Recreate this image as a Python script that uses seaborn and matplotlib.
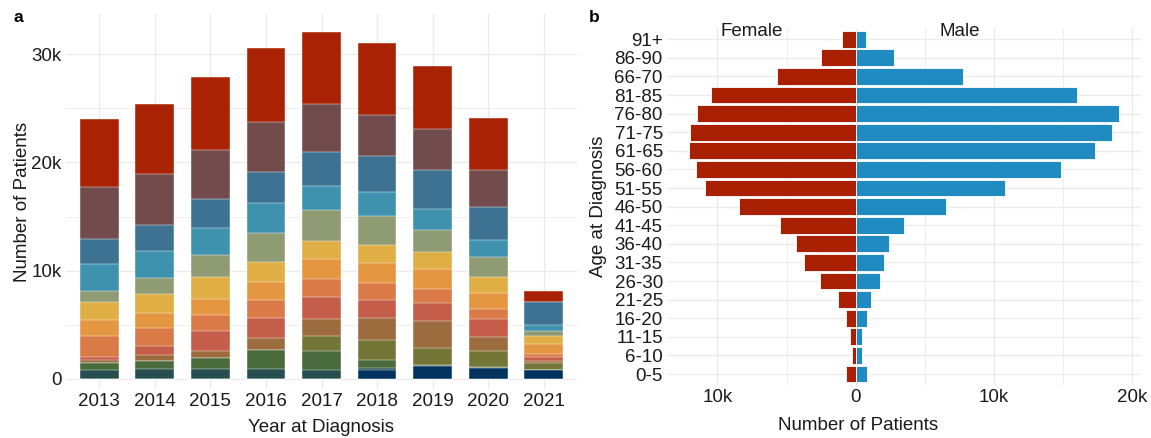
import matplotlib
matplotlib.use("Agg")
import matplotlib.pyplot as plt
import numpy as np
import pandas as pd
import seaborn as sns

# ---------------- data: panel a ----------------
years = ["2013", "2014", "2015", "2016", "2017", "2018", "2019", "2020", "2021"]
categories = ["Group 1", "Group 2", "Group 3", "Group 4", "Group 5", "Group 6", "Group 7",
              "Group 8", "Group 9", "Group 10", "Group 11", "Group 12", "Group 13", "Group 14"]
group_1 = [0, 0, 0, 0, 0, 830, 1170, 1050, 870]
group_2 = [830, 890, 950, 950, 830, 185, 0, 0, 0]
group_3 = [615, 770, 1015, 1755, 1785, 740, 125, 90, 0]
group_4 = [0, 0, 0, 0, 1385, 1845, 1600, 1446, 630]
group_5 = [310, 520, 645, 1075, 1510, 2060, 2430, 1260, 154]
group_6 = [280, 890, 1845, 1875, 2060, 1660, 1720, 1720, 369]
group_7 = [1940, 1660, 1480, 1660, 1630, 1540, 1230, 860, 246]
group_8 = [1480, 1355, 1445, 1660, 1875, 1875, 1845, 1480, 923]
group_9 = [1690, 1755, 2000, 1845, 1660, 1660, 1570, 1480, 769]
group_10 = [985, 1480, 2060, 2645, 2860, 2680, 2090, 1845, 462]
group_11 = [2460, 2460, 2460, 2740, 2250, 2185, 1940, 1570, 523]
group_12 = [2340, 2430, 2680, 2925, 3080, 3355, 3600, 3110, 2154]
group_13 = [4815, 4740, 4525, 4585, 4460, 3785, 3720, 3415, 0]
group_14 = [6300, 6430, 6770, 6865, 6650, 6615, 5880, 4800, 1046]
series_a = [group_1, group_2, group_3, group_4, group_5, group_6, group_7,
            group_8, group_9, group_10, group_11, group_12, group_13, group_14]
palette_a = ["#02335F", "#264E50", "#4A6B3C", "#747637", "#9C6C3F", "#C45E4A", "#D97A47",
             "#E59640", "#DFAE45", "#8F9C73", "#3F92AE", "#3E7292", "#724C4C", "#A82203"]

# ---------------- data: panel b ----------------
ages = ["91+", "86-90", "66-70", "81-85", "76-80", "71-75", "61-65", "56-60", "51-55",
        "46-50", "41-45", "36-40", "31-35", "26-30", "21-25", "16-20", "11-15", "6-10", "0-5"]
female = [960, 2480, 5680, 10490, 11460, 11960, 12080, 11575, 10900,
          8425, 5465, 4330, 3730, 2600, 1275, 700, 433, 290, 673]
male = [745, 2770, 7725, 16000, 19060, 18510, 17300, 14850, 10800,
        6500, 3515, 2430, 2045, 1730, 1105, 795, 480, 433, 795]
sexes = ["Female", "Male"]
sex_colors = {"Female": "#A82000", "Male": "#208BC0"}

# ---------------- style ----------------
sns.set_theme(style="white")
plt.rcParams["font.family"] = ["Liberation Sans", "DejaVu Sans"]
txt = "#1a1a1a"
grid_c = "#EBEBEB"
FS = 13.5

fig = plt.figure(figsize=(11.51, 4.38), dpi=100)
W, H = 1151, 438

def px_axes(l, t, r, b):
    return fig.add_axes([l / W, 1 - b / H, (r - l) / W, (b - t) / H])

# ---------------- panel a ----------------
ax = px_axes(66, 14.3, 577, 388.7)
cum = np.zeros(len(years))
cums = []
for s in series_a:
    cum = cum + np.array(s, dtype=float)
    cums.append(cum.copy())
for i in reversed(range(len(series_a))):
    sns.barplot(x=years, y=cums[i], color=palette_a[i], width=0.7, saturation=1,
                errorbar=None, edgecolor="white", linewidth=0.3, ax=ax)
ax.set_xlim(-0.6, len(years) - 0.4)
ax.set_ylim(-900, 33673)
ax.set_yticks([0, 10000, 20000, 30000])
ax.set_yticklabels(["0", "10k", "20k", "30k"])
ax.set_yticks([5000, 15000, 25000], minor=True)
ax.set_axisbelow(True)
ax.grid(which="major", color=grid_c, lw=1.0)
ax.grid(which="minor", axis="y", color=grid_c, lw=0.6)
ax.tick_params(which="both", length=0, labelsize=FS, colors=txt, pad=3)
for sp in ax.spines.values():
    sp.set_visible(False)
ax.set_xlabel("Year at Diagnosis", fontsize=FS, color=txt)
ax.set_ylabel("Number of Patients", fontsize=FS, color=txt)
ax.xaxis.set_label_coords(0.5, -0.08)
ax.yaxis.set_label_coords(-0.068, 0.5)

# ---------------- panel b ----------------
axb = px_axes(667, 28.1, 1141, 385.2)
dfb = pd.DataFrame({
    "age": ages * 2,
    "sex": ["Female"] * len(ages) + ["Male"] * len(ages),
    "value": [-v for v in female] + male,
})
sns.barplot(data=dfb, x="value", y="age", hue="sex", order=ages, hue_order=sexes,
            palette=sex_colors, dodge=False, width=0.9, saturation=1, errorbar=None,
            edgecolor="white", linewidth=0.6, orient="h", legend=False, ax=axb)
axb.set_xlim(-13637, 20617)
axb.set_ylim(len(ages) - 0.4, -0.6)
axb.set_xticks([-10000, 0, 10000, 20000])
axb.set_xticklabels(["10k", "0", "10k", "20k"])
axb.set_xticks([-5000, 5000, 15000], minor=True)
axb.set_axisbelow(True)
axb.grid(which="major", color=grid_c, lw=1.0)
axb.grid(which="minor", axis="x", color=grid_c, lw=0.6)
axb.tick_params(which="both", length=0, labelsize=FS, colors=txt, pad=3)
for sp in axb.spines.values():
    sp.set_visible(False)
axb.set_xlabel("Number of Patients", fontsize=FS, color=txt)
axb.set_ylabel("Age at Diagnosis", fontsize=FS, color=txt)
axb.xaxis.set_label_coords(0.403, -0.09)
axb.yaxis.set_label_coords(-0.126, 0.5)
axb.text(-7500, -0.44, "Female", ha="center", va="center", fontsize=FS, color=txt)
axb.text(7500, -0.44, "Male", ha="center", va="center", fontsize=FS, color=txt)

fig.text(18 / W, 1 - 18 / H, "a", fontsize=12.5, fontweight="bold", ha="center", va="center", color="black")
fig.text(594 / W, 1 - 18 / H, "b", fontsize=12.5, fontweight="bold", ha="center", va="center", color="black")

fig.savefig("out.png", dpi=100, facecolor="white")
